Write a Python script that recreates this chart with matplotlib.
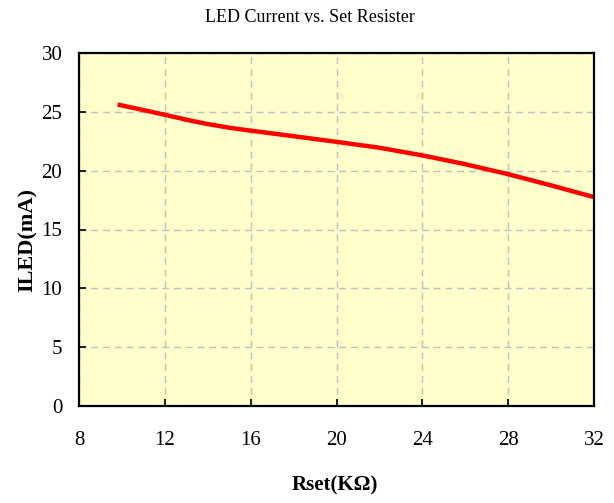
import matplotlib
matplotlib.use("Agg")
import matplotlib.pyplot as plt

rset = [9.8, 11, 12, 13, 14, 15, 16, 18, 20, 22, 24, 26, 28, 30, 32]
iled = [25.62, 25.15, 24.75, 24.33, 23.96, 23.65, 23.4, 22.93, 22.45, 21.95, 21.3, 20.55, 19.7, 18.75, 17.75]
xticks = [8, 12, 16, 20, 24, 28, 32]
yticks = [0, 5, 10, 15, 20, 25, 30]

plt.rcParams['font.family'] = ['Liberation Serif', 'DejaVu Serif']

fig = plt.figure(figsize=(6.14, 5.03), dpi=100)
ax = fig.add_axes([79/614, 1-406/503, (594-79)/614, (406-53)/503])
ax.set_facecolor('#FFFFCC')
ax.plot(rset, iled, color='#FF0000', lw=3.2, solid_capstyle='butt', solid_joinstyle='round')
ax.set_xlim(8, 32)
ax.set_ylim(0, 30)
ax.set_xticks(xticks)
ax.set_yticks(yticks)
ax.grid(True, color='#C0C0C0', linestyle=(0, (5, 3.5)), lw=1)
ax.set_axisbelow(True)
ax.tick_params(direction='in', length=5, width=1.2, labelsize=15, pad=12, colors='black')
ax.tick_params(axis='x', pad=18)
for s in ax.spines.values():
    s.set_linewidth(1.6)
    s.set_color('black')
fig.text(0.505, 1-18/503, 'LED Current vs. Set Resister', ha='center', va='center', fontsize=13)
fig.text(0.546, 1-485/503, 'Rset(KΩ)', ha='center', va='center', fontsize=15, fontweight='bold')
fig.text(28/614, 1-240/503, 'ILED(mA)', ha='center', va='center', rotation=90, fontsize=16, fontweight='bold')
fig.savefig('out.png', dpi=100)
